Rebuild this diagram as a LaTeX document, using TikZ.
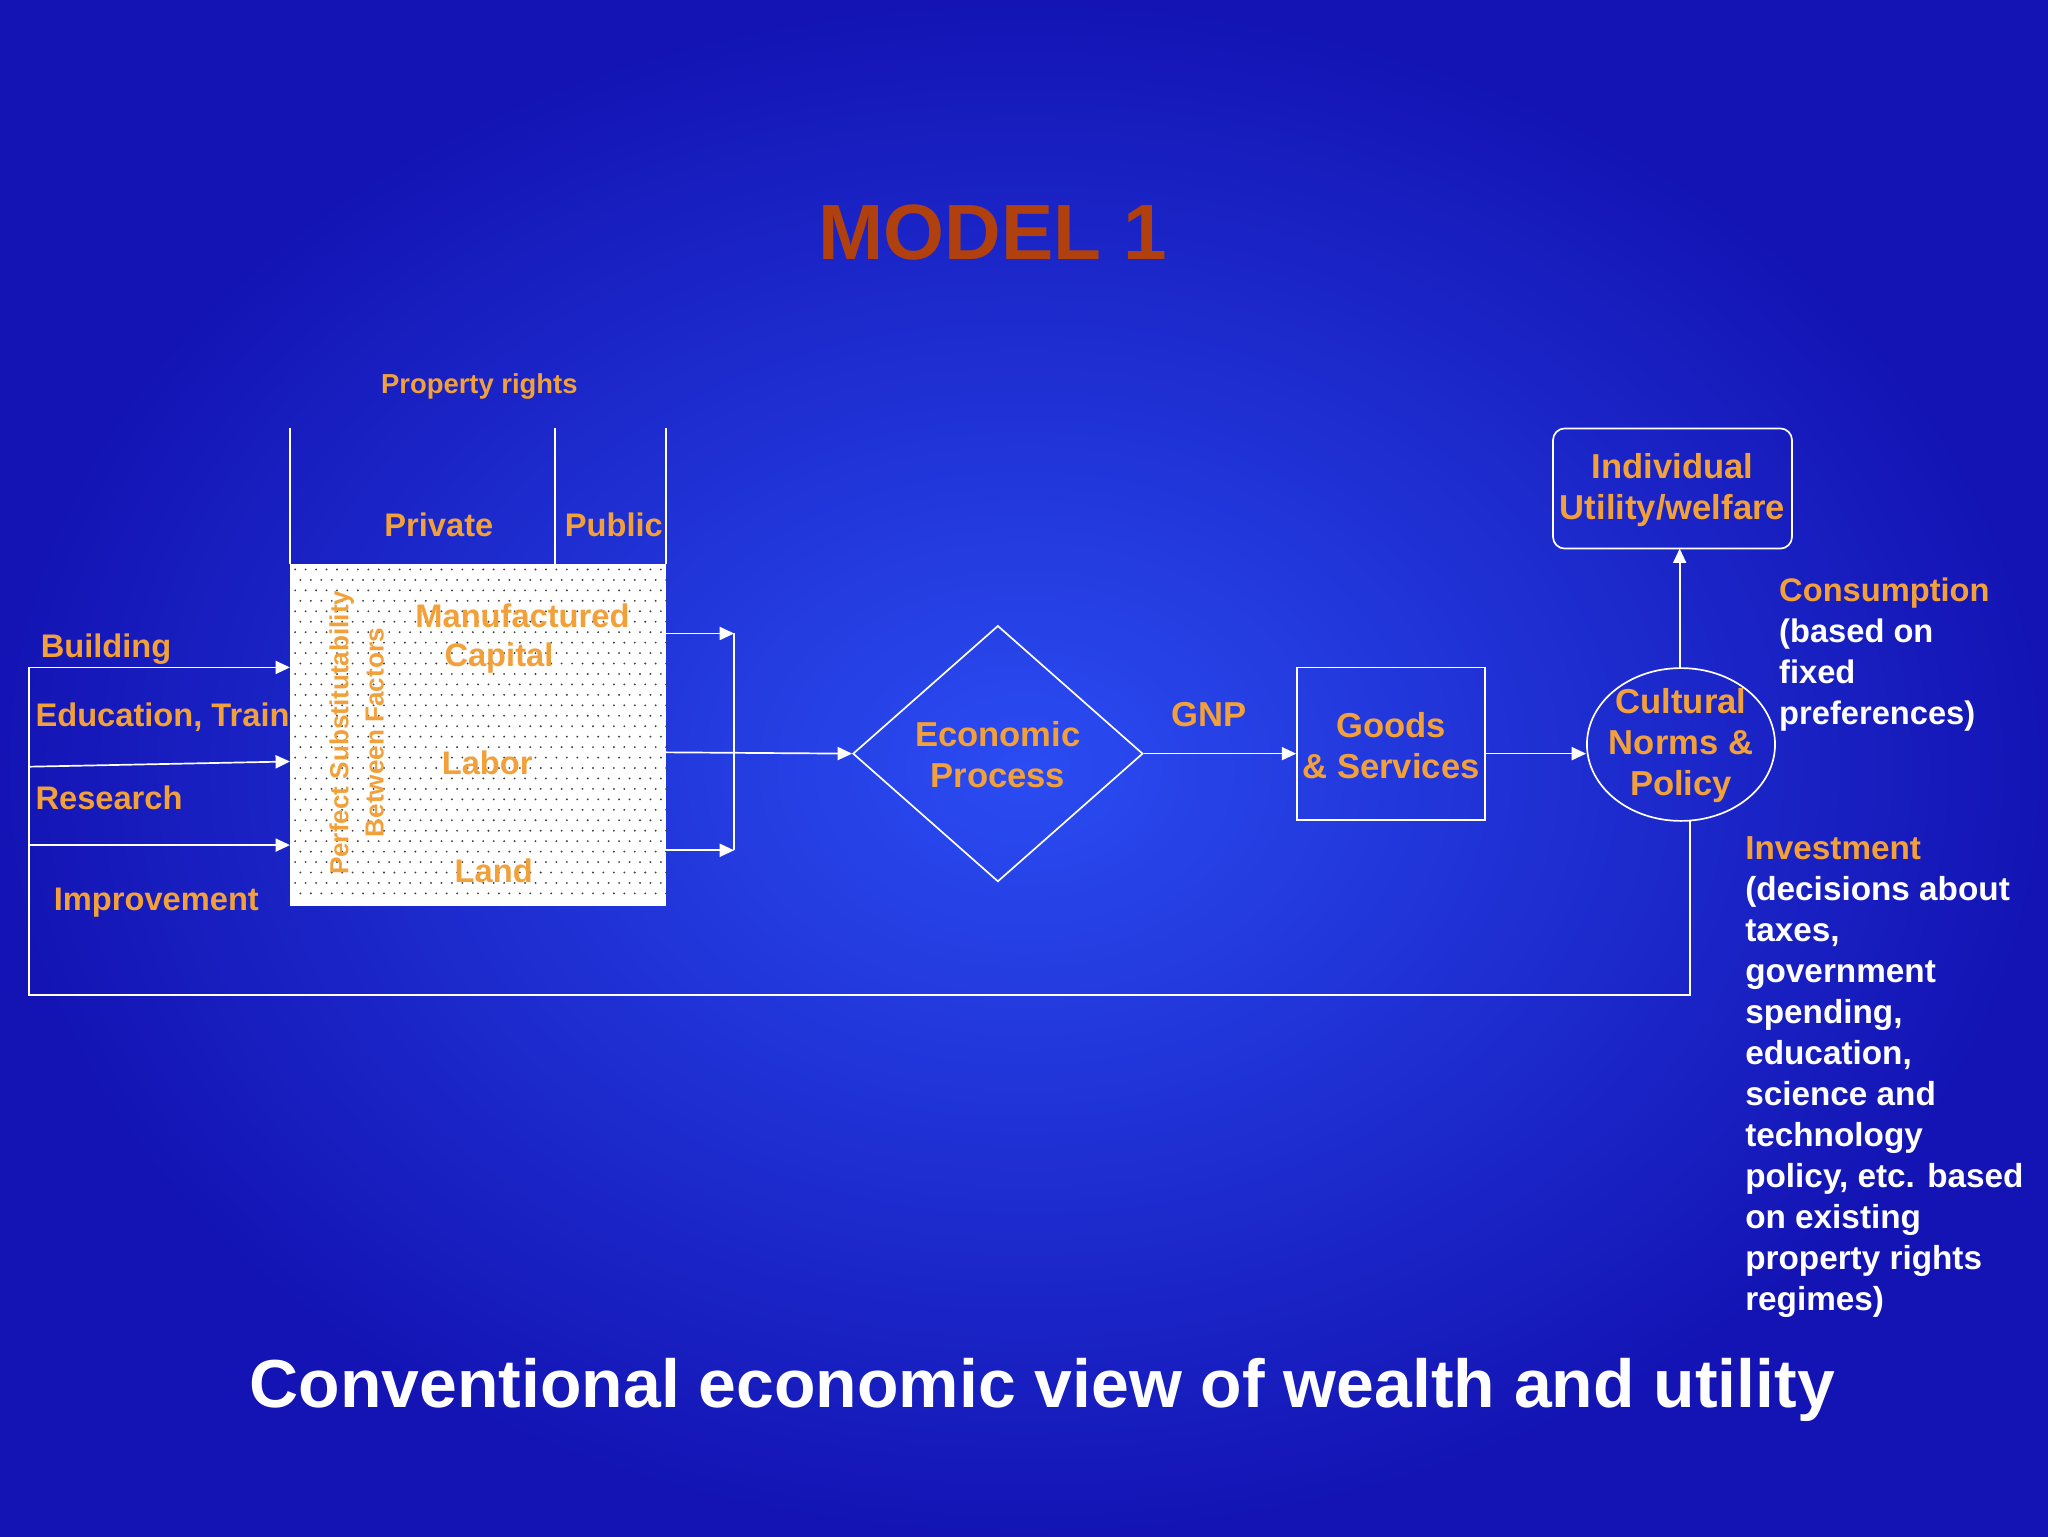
\documentclass[tikz,border=0pt]{standalone}
\usepackage{fontspec}
\setmainfont{Liberation Sans}
\usetikzlibrary{shapes.geometric,arrows.meta}
\definecolor{org}{HTML}{F2A03A}
\definecolor{ttl}{HTML}{B0410F}
\definecolor{bgin}{HTML}{2A4CF2}
\definecolor{bgout}{HTML}{1414B4}
\tikzset{
 lbl/.style={text=org,font=\bfseries\fontsize{25}{30}\selectfont,inner sep=0pt},
 big/.style={font=\bfseries\fontsize{26.5}{31.5}\selectfont},
 wl/.style={draw=white,line width=1.3pt},
 arr/.style={wl,-{Triangle[width=10pt,length=11pt]}},
}
\begin{document}
\begin{tikzpicture}[x=1pt,y=-1pt]
\useasboundingbox (0,0) rectangle (1568,1176);
\shade[inner color=bgin,outer color=bgout] (0,0) rectangle (1568,1176);
\node[text=ttl,font=\bfseries\fontsize{60}{70}\selectfont] (title) at (760,178) {MODEL 1};
\node[lbl,font=\bfseries\fontsize{21}{25}\selectfont] (pr) at (367,296) {Property rights};
\draw[wl] (222,328) -- (222,432) (425,328) -- (425,432) (510,328) -- (510,432);
\node[lbl] (priv) at (336,402) {Private};
\node[lbl] (pub) at (470,402) {Public};
% left labels
\node[lbl,anchor=west] (bld) at (31,497) {Building};
\node[lbl,anchor=west] (edu) at (27,550) {Education, Training};
\node[lbl,anchor=west] (res) at (27,611) {Research};
\node[lbl,anchor=west] (imp) at (41,691) {Improvement};
% box
\fill[white] (222,432) rectangle (510,694);
\foreach \i in {0,...,35}{\foreach \j in {0,...,31}{
  \fill[black!75] ({226+\i*8+mod(\j,2)*4},{436+\j*8}) circle (0.8);}}
\node (box) [inner sep=0pt,minimum width=288pt,minimum height=262pt] at (366,563) {};
\node[lbl,rotate=90,align=center,font=\bfseries\fontsize{20}{27}\selectfont] (pss) at (273,561) {Perfect Substitutability\\Between Factors};
\node[lbl,align=center] (mc) at (382,489) {\hspace*{36pt}Manufactured\\Capital};
\node[lbl] (lab) at (373,584) {Labor};
\node[lbl] (land) at (378,667) {Land};
% left connectors
\coordinate (lt) at (22,511); \coordinate (lb) at (22,762);
\coordinate (br) at (1294,762);
\draw[wl] (lt) -- (lb) -- (br) -- (1294,628);
\draw[arr] (lt) -- (222,511);
\draw[arr] (22,587) -- (222,583);
\draw[arr] (22,647) -- (222,647);
% right of box
\draw[wl] (562,485) -- (562,651);
\draw[arr] (510,485) -- (562,485);
\draw[arr] (510,651) -- (562,651);
\node[diamond,draw=white,line width=1.3pt,minimum width=222pt,minimum height=196pt,inner sep=0pt] (ep) at (764,577) {};
\node[lbl,align=center,big] at (764,578) {Economic\\Process};
\draw[arr] (510,576) -- (ep.west);
\node[lbl,big] (gnp) at (926,547) {GNP};
\node[draw=white,line width=1.3pt,minimum width=144pt,minimum height=117pt,inner sep=0pt] (gs) at (1065,569.5) {};
\node[lbl,align=center,big] at (1065,571) {Goods\\\& Services};
\draw[arr] (ep.east) -- (gs.west|-ep.east);
\node[ellipse,draw=white,line width=1.3pt,minimum width=144pt,minimum height=117pt,inner sep=0pt] (cn) at (1287,570) {};
\node[lbl,align=center,big] at (1287,571) {Cultural\\Norms \&\\Policy};
\draw[arr] (gs.east|-ep.east) -- (cn.west|-ep.east);
\node[draw=white,line width=1.3pt,rounded corners=9pt,minimum width=183pt,minimum height=92pt,inner sep=0pt] (iu) at (1280.5,374) {};
\node[lbl,align=center,big] at (1280.5,375) {Individual\\Utility/welfare};
\draw[arr] (1286,512) -- (1286,420);
\node[lbl,anchor=north west,align=left,text=white,font=\bfseries\fontsize{25}{31.4}\selectfont] (cons) at (1362,442) {\textcolor{org}{Consumption}\\(based on\\fixed\\preferences)};
\node[lbl,anchor=north west,align=left,text=white,font=\bfseries\fontsize{25.5}{31.4}\selectfont] (inv) at (1336,640) {\textcolor{org}{Investment}\\(decisions about\\taxes,\\government\\spending,\\education,\\science and\\technology\\policy, etc. based\\on existing\\property rights\\regimes)};
\node[text=white,font=\bfseries\fontsize{52}{60}\selectfont] (cap) at (798,1064) {Conventional economic view of wealth and utility};
\end{tikzpicture}
\end{document}
